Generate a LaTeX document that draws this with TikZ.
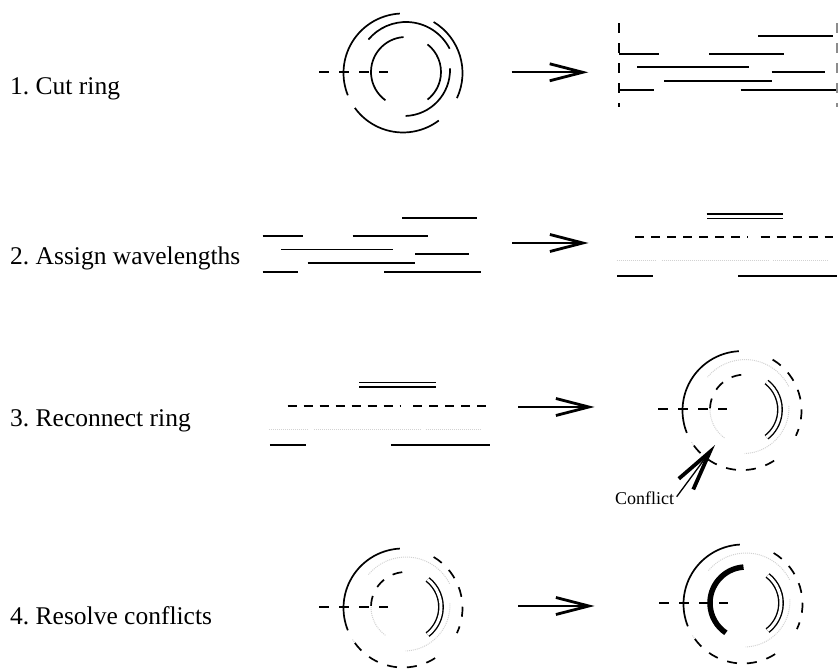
\documentclass[tikz,border=0pt]{standalone}
\usepackage{fontspec}
\setmainfont{Liberation Serif}
\usetikzlibrary{arrows.meta}
\newcommand\myarc[5]{\draw[#1] (#2) ++(#4:#3) arc[start angle=#4, end angle=#5, radius=#3];}
\frenchspacing
\begin{document}
\begin{tikzpicture}[x=1pt,y=1pt,
  ln/.style={line width=1.7pt},
  dsh/.style={line width=1.7pt, dash pattern=on 10pt off 10pt},
  dshb/.style={line width=1.7pt, dash pattern=on 9pt off 7pt},
  dtg/.style={line width=1pt, draw=gray!35, dash pattern=on 1pt off 1pt},
  dbl/.style={line width=1.4pt, double, double distance=3pt},
  thk/.style={line width=5.5pt},
  bigarrow/.style={line width=1.7pt, -{Straight Barb[length=33pt,width=17pt,line width=2.8pt]}},
  confarrow/.style={line width=1.3pt, -{Straight Barb[length=40pt,width=18pt,line width=3.8pt]}},
  lbl/.style={anchor=base west, inner sep=0pt, font=\fontsize{25.5}{30}\selectfont},
  clbl/.style={anchor=base west, inner sep=0pt, font=\fontsize{18}{21}\selectfont},
]
\useasboundingbox (0,0) rectangle (838,671);

% ---------- labels ----------
\node[lbl] (l1) at (10,576.5) {1. Cut ring};
\node[lbl] (l2) at (10,406) {2. Assign wavelengths};
\node[lbl] (l3) at (10,244) {3. Reconnect ring};
\node[lbl] (l4) at (10,46) {4. Resolve conflicts};

% ---------- stage arrows ----------
\coordinate (a1s) at (511.7,598.7); \coordinate (a1e) at (588.3,598.7);
\coordinate (a2s) at (512,428);     \coordinate (a2e) at (588.5,428);
\coordinate (a3s) at (518,264);     \coordinate (a3e) at (594.5,264);
\coordinate (a4s) at (518,65);      \coordinate (a4e) at (594.5,65);
\draw[bigarrow] (a1s) -- (a1e);
\draw[bigarrow] (a2s) -- (a2e);
\draw[bigarrow] (a3s) -- (a3e);
\draw[bigarrow] (a4s) -- (a4e);

% ---------- stage 1: cut ring (all solid) ----------
\begin{scope}
  \coordinate (co) at (403,598); \coordinate (cm) at (406,600);
  \coordinate (cf) at (404,601); \coordinate (ci) at (406,599);
  \myarc{ln}{co}{59.5}{93}{202}
  \myarc{ln}{co}{59.5}{59}{-25}
  \myarc{ln}{co}{59.5}{216}{307}
  \myarc{ln}{cm}{49}{27}{140}
  \myarc{ln}{cf}{46}{2}{-88}
  \myarc{ln}{ci}{35}{94}{234}
  \myarc{ln}{ci}{35}{52}{-52}
  \coordinate (cutL) at (319.3,599.3); \coordinate (cutR) at (388.3,599.3);
  \draw[dsh] (cutL) -- (cutR);
\end{scope}

% ---------- stage 1 right and stage 2 left: unrolled arcs ----------
\foreach \sx/\sy in {0/0, -356.3/-182.3}{
  \begin{scope}[shift={(\sx,\sy)}]
    \draw[ln] (758.3,635) -- (833.3,635);
    \draw[ln] (619,617.3) -- (659.3,617.3);
    \draw[ln] (709,617.3) -- (784.3,617.3);
    \draw[ln] (637.3,603.7) -- (749,603.7);
    \draw[ln] (771.7,599.3) -- (825,599.3);
    \draw[ln] (664,590.3) -- (771.7,590.3);
    \draw[ln] (619,581.3) -- (654.3,581.3);
    \draw[ln] (740.7,581.3) -- (837.3,581.3);
  \end{scope}
}
\coordinate (vl1) at (619,647.7); \coordinate (vl2) at (619,563.7);
\coordinate (vr1) at (837.3,647.7); \coordinate (vr2) at (837.3,563.7);
\draw[dsh] (vl1) -- (vl2);
\draw[dsh, draw=black!45] (vr1) -- (vr2);

% ---------- stage 2 right and stage 3 left: assigned lines ----------
\foreach \sx/\sy in {0/0, -347.4/-168.7}{
  \begin{scope}[shift={(\sx,\sy)}]
    \draw[dbl] (706.7,454.8) -- (783.3,454.8);
    \draw[dshb] (635,433.7) -- (748,433.7);
    \draw[dshb] (760.7,433.7) -- (833.3,433.7);
    \draw[dtg] (616.7,410) -- (656.7,410);
    \draw[dtg] (661.7,410) -- (768.3,410);
    \draw[dtg] (773.3,410) -- (828.3,410);
    \draw[ln] (617.3,395) -- (653.3,395);
    \draw[ln] (738.3,395) -- (837.3,395);
  \end{scope}
}

% ---------- stage 3 right and stage 4 left: reconnected ring ----------
\foreach \sx/\sy in {339/-337.6, 0/-535}{
  \begin{scope}[shift={(\sx,\sy)}]
    \coordinate (co) at (403,598); \coordinate (cm) at (406,600);
    \coordinate (cf) at (404,601); \coordinate (ci) at (406,599);
    \myarc{ln}{co}{59.5}{93}{202}
    \myarc{dsh}{co}{59.5}{59}{-25}
    \myarc{dtg}{co}{59.5}{212}{216}
    \myarc{dsh}{co}{59.5}{216}{307}
    \myarc{dtg}{cm}{49}{27}{140}
    \myarc{dtg}{cf}{46}{2}{-88}
    \myarc{dsh}{ci}{35}{178}{94}
    \myarc{dtg}{ci}{35}{180}{234}
    \myarc{dbl}{ci}{35}{52}{-52}
    \coordinate (cutL) at (319.3,599.3); \coordinate (cutR) at (388.3,599.3);
    \draw[dsh] (cutL) -- (cutR);
  \end{scope}
}

% ---------- stage 4 right: resolved ring ----------
\begin{scope}[shift={(340,-531)}]
  \coordinate (co) at (403,598); \coordinate (cm) at (406,600);
  \coordinate (cf) at (404,601); \coordinate (ci) at (406,599);
  \myarc{ln}{co}{59.5}{93}{202}
  \myarc{dsh}{co}{59.5}{59}{-25}
  \myarc{dtg}{co}{59.5}{212}{216}
  \myarc{dsh}{co}{59.5}{216}{307}
  \myarc{dtg}{cm}{49}{27}{140}
  \myarc{dtg}{cf}{46}{2}{-88}
  \myarc{thk}{ci}{36}{94}{236}
  \myarc{dbl}{ci}{35}{52}{-52}
  \coordinate (cutL) at (319.3,599.3); \coordinate (cutR) at (388.3,599.3);
  \draw[dsh] (cutL) -- (cutR);
\end{scope}

% ---------- conflict label ----------
\node[clbl] (conf) at (615,166) {Conflict};
\coordinate (ctail) at (676.7,174.3);
\coordinate (ctip) at (715,226);
\draw[confarrow] (ctail) -- (ctip);

\end{tikzpicture}
\end{document}
